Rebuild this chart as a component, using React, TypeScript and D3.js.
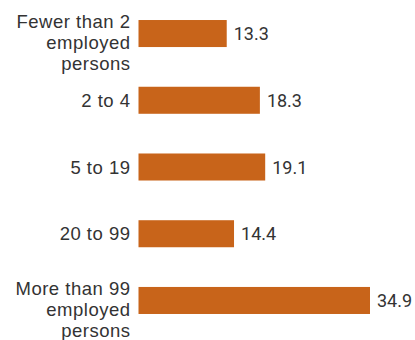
import React from "react";
import * as d3 from "d3";

const categories: string[][] = [
  ["Fewer than 2", "employed", "persons"],
  ["2 to 4"],
  ["5 to 19"],
  ["20 to 99"],
  ["More than 99", "employed", "persons"],
];
const values: number[] = [13.3, 18.3, 19.1, 14.4, 34.9];

const W = 415;
const H = 340;

export default function App() {
  const ids = categories.map((_, i) => String(i));
  const y = d3.scaleBand<string>().domain(ids).range([0, 334]).paddingInner(0.595).paddingOuter(0.3);
  const x = d3.scaleLinear().domain([0, 34.9]).range([138.5, 370]);
  const labelFont = "'Liberation Sans', Arial, sans-serif";
  return (
    <svg width={W} height={H} style={{ position: "absolute", left: 0, top: 0 }}>
      {values.map((v, i) => {
        const yy = y(String(i))!;
        const bh = y.bandwidth();
        const c = yy + bh / 2;
        const lines = categories[i];
        return (
          <g key={i}>
            <rect x={x(0)} y={yy} width={x(v) - x(0)} height={bh} fill="#c8641a" />
            <text x={x(v) + 7} y={c + 6.5} fontSize={18} fill="#333" fontFamily="Roboto, sans-serif">
              {v.toFixed(1)}
            </text>
            <text textAnchor="end" fontSize={18.5} fill="#333" fontFamily={labelFont} letterSpacing={0.5}>
              {lines.map((l, j) => (
                <tspan key={j} x={130.5} y={(lines.length > 1 ? c - 12 : c) + 6.5 + j * 21}>
                  {l}
                </tspan>
              ))}
            </text>
          </g>
        );
      })}
    </svg>
  );
}
